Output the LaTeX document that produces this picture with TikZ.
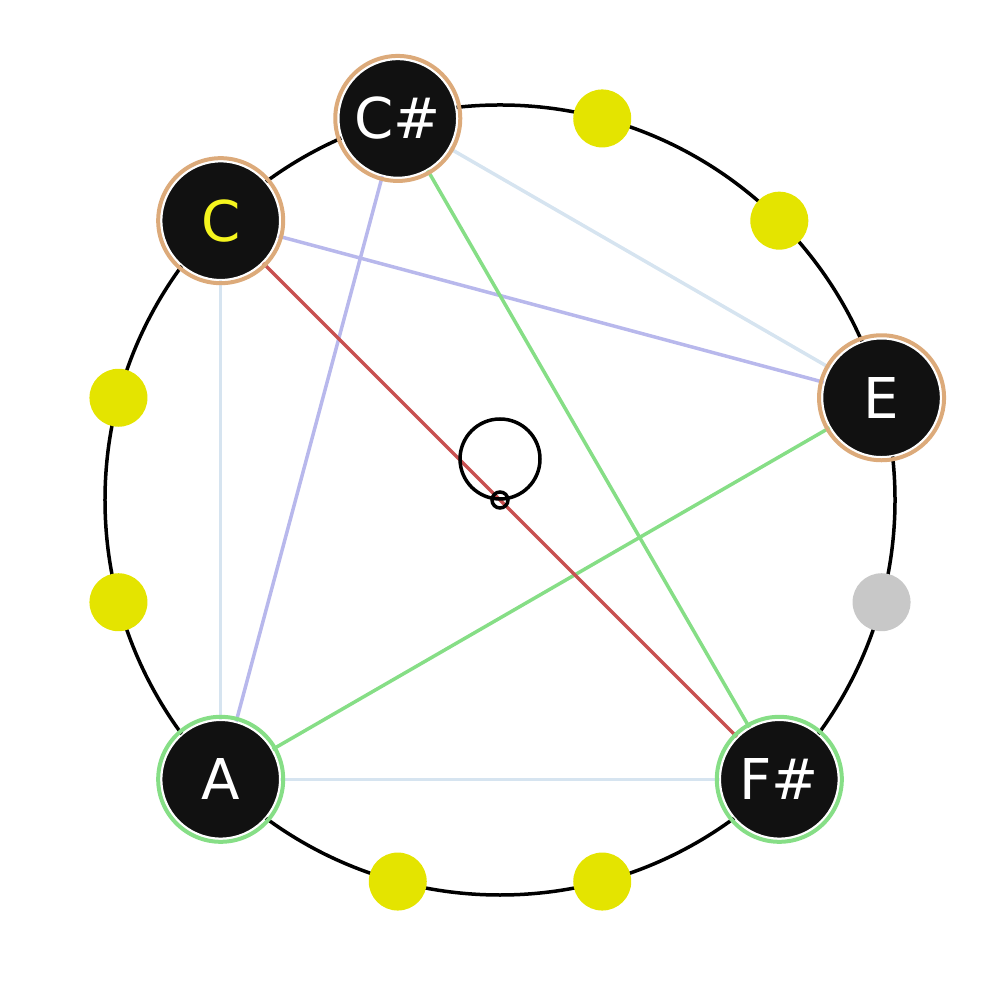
\documentclass[tikz,border=0pt]{standalone}
\usepackage{fontspec}
\setmainfont{DejaVu Sans}
\usetikzlibrary{backgrounds}
\tikzset{
  notenode/.style={circle, fill=nodeblack, draw=white, line width=0.015cm, minimum size=1.18cm, inner sep=0pt, font=\fontsize{16}{19}\selectfont},
  dotnode/.style={circle, minimum size=0.58cm, inner sep=0pt},
  interval/.style={line width=0.035cm}
}
\begin{document}
\begin{tikzpicture}
\definecolor{nodeblack}{RGB}{17,17,17}
\definecolor{ringtan}{RGB}{220,170,122}
\definecolor{ringgreen}{RGB}{134,222,134}
\definecolor{dotyellow}{RGB}{228,228,0}
\definecolor{dotgray}{RGB}{200,200,200}
\definecolor{noteyellow}{RGB}{245,245,30}
\definecolor{linered}{RGB}{200,80,80}
\definecolor{linegreen}{RGB}{134,222,134}
\definecolor{lineblue}{RGB}{184,184,236}
\definecolor{linepale}{RGB}{214,228,240}
\useasboundingbox (-5,-5) rectangle (5,5);
% pitch class circle
\draw[line width=0.035cm] (0,0) circle (3.95);
% chord notes with rings
\foreach \name/\lab/\ang/\txt/\rc in {C/C/135/noteyellow/ringtan, Cs/C\#/105/white/ringtan, E/E/15/white/ringtan, A/A/-135/white/ringgreen, Fs/F\#/-45/white/ringgreen} {
  \node[notenode, text=\txt] (\name) at (\ang:3.95) {\lab};
  \draw[\rc, line width=0.04cm] (\name.center) circle (0.625);
}
% other pitch classes
\foreach \name/\ang in {D/75, Ds/45, G/-75, Gs/-105, As/-165, B/165} {
  \node[dotnode, fill=dotyellow] (\name) at (\ang:3.95) {};
}
\node[dotnode, fill=dotgray] (F) at (-15:3.95) {};
% center marker
\node[circle, draw, line width=0.035cm, minimum size=0.16cm, inner sep=0pt] (root) at (0,0) {};
\draw[line width=0.035cm] (root.center) ++(0,0.41) circle (0.40);
% intervals
\begin{scope}[on background layer]
  \draw[interval, linepale] (Cs) -- (E);
  \draw[interval, linepale] (C) -- (A);
  \draw[interval, linepale] (A) -- (Fs);
  \draw[interval, lineblue] (Cs) -- (A);
  \draw[interval, lineblue] (C) -- (E);
  \draw[interval, linegreen] (Cs) -- (Fs);
  \draw[interval, linegreen] (E) -- (A);
  \draw[interval, linered] (C) -- (Fs);
\end{scope}
\end{tikzpicture}
\end{document}
